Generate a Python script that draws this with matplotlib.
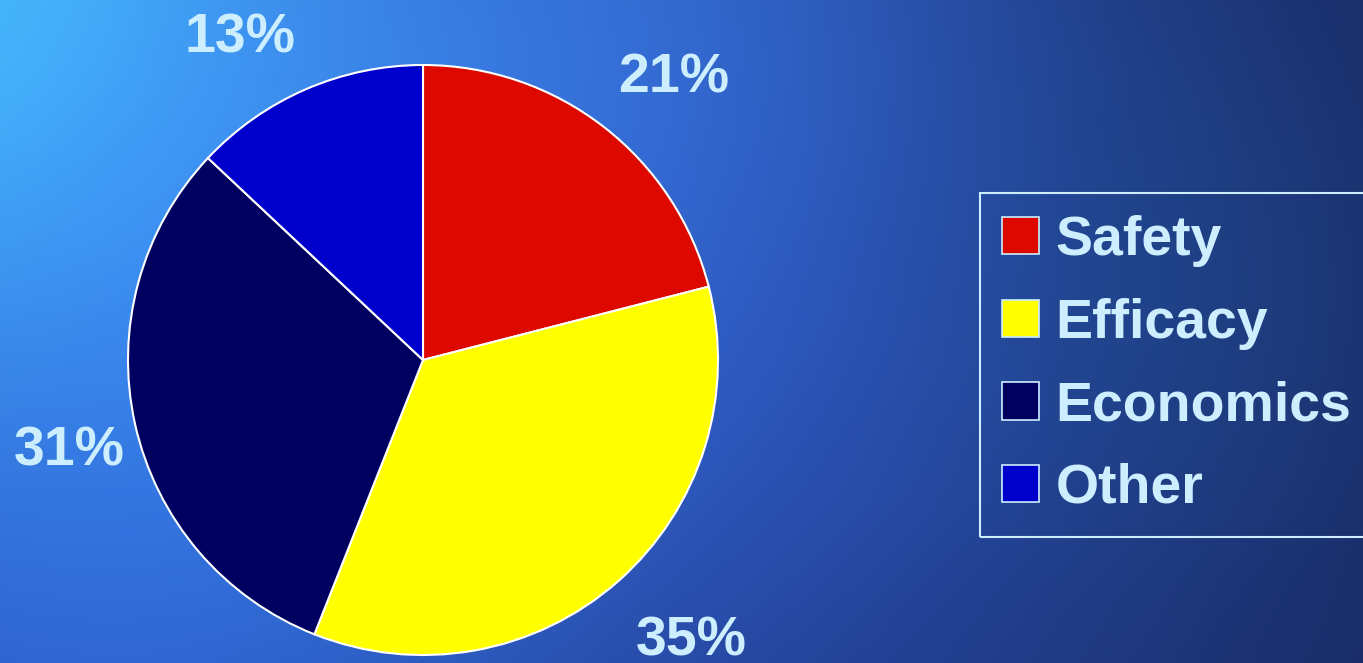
import numpy as np
import matplotlib
matplotlib.use("Agg")
import matplotlib.pyplot as plt

# chart data
categories = ["Safety", "Efficacy", "Economics", "Other"]
shares = [21, 35, 31, 13]
colors = ["#dd0800", "#ffff00", "#000060", "#0000cc"]
text_color = "#cceeff"
# where the PowerPoint-style labels sit (pie radius units)
label_pos = [(0.85, 0.955), (0.91, -0.955), (-1.20, -0.31), (-0.62, 1.09)]

plt.rcParams['font.family'] = ['Liberation Sans', 'DejaVu Sans']

fig = plt.figure(figsize=(13.63, 6.63), dpi=100)

# cloudy blue backdrop
bg = fig.add_axes([0, 0, 1, 1], zorder=-10)
h, w = 663, 1363
yy, xx = np.mgrid[0:h, 0:w]
base = np.array([0.16, 0.30, 0.70])
right = np.array([0.10, 0.17, 0.40])
t = xx / w
img = base[None, None, :] * (1 - t[..., None]) + right[None, None, :] * t[..., None]
# bright glows (x, y, radius, colour, strength)
glows = [(0, 40, 260, (0.30, 0.85, 1.0), 0.9),
         (230, 230, 300, (0.25, 0.60, 1.0), 0.6),
         (600, 60, 300, (0.25, 0.55, 1.0), 0.5),
         (150, 560, 260, (0.20, 0.45, 0.95), 0.4),
         (800, 350, 250, (0.20, 0.35, 0.85), 0.35),
         (1150, 300, 200, (0.12, 0.30, 0.55), 0.4)]
for gx, gy, r, c, a in glows:
    g = a * np.exp(-((xx - gx) ** 2 + (yy - gy) ** 2) / (2 * r ** 2))
    img = img * (1 - g[..., None]) + np.array(c)[None, None, :] * g[..., None]
bg.imshow(np.clip(img, 0, 1), aspect='auto', extent=[0, w, h, 0])
bg.axis('off')

# pie
ax = fig.add_axes([128 / 1363, 1 - 655 / 663, 590 / 1363, 590 / 663])
wedges, _, autotexts = ax.pie(
    shares, colors=colors, startangle=90, counterclock=False,
    autopct=lambda p: f"{p:.0f}%", pctdistance=1.29,
    wedgeprops=dict(edgecolor="white", linewidth=1.5),
    textprops=dict(color=text_color, fontsize=40, fontweight='bold'))
for at, pos in zip(autotexts, label_pos):
    at.set_position(pos)
    at.set_clip_on(False)
ax.set_xlim(-1, 1)
ax.set_ylim(-1, 1)
ax.set_aspect('equal')

for wdg in wedges:
    wdg.set_clip_on(False)

leg = fig.legend(wedges, categories, loc='upper left',
                 bbox_to_anchor=(980 / 1363, 1 - 193 / 663),
                 frameon=True, fancybox=False, framealpha=1,
                 facecolor='none', edgecolor=text_color,
                 prop=dict(size=40, weight='bold'),
                 handlelength=0.66, handleheight=0.66, handletextpad=0.3,
                 labelspacing=0.55, borderpad=0.4, borderaxespad=0)
leg.get_frame().set_linewidth(1.5)
for txt in leg.get_texts():
    txt.set_color(text_color)
for p in leg.get_patches():
    p.set_edgecolor(text_color)
    p.set_linewidth(1.2)

fig.savefig("out.png", dpi=100)
